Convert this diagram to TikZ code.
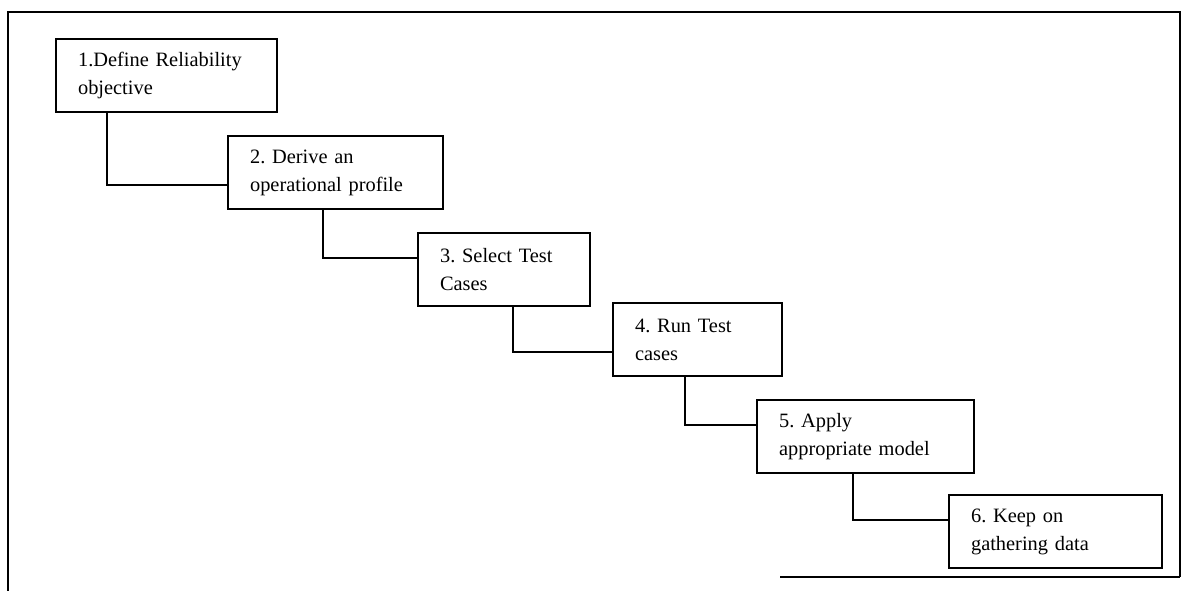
\documentclass[tikz,border=0pt]{standalone}
\usepackage{fontspec}
\setmainfont{Liberation Serif}
\usetikzlibrary{calc}
\frenchspacing

\tikzset{
  stepbox/.style={draw, line width=1.5pt, anchor=north west, align=left,
    inner xsep=0.55cm, minimum height=1.83cm, font=\fontsize{14.5}{20}\selectfont},
  link/.style={line width=1.5pt}
}

\begin{document}
\begin{tikzpicture}[x=0.025cm, y=-0.025cm]

                \useasboundingbox (0,0) rectangle (1182,591);

                % frame
                \draw[line width=1.8pt] (8,591) -- (8,12) -- (1180,12) -- (1180,577);
                \draw[line width=1.5pt] (780,577) -- (1180,577);

                % steps
                \node[stepbox, text width=4.43cm] (define) at (55,38) {1.Define Reliability\\objective};
                \node[stepbox, text width=4.28cm] (derive) at (227,135) {2. Derive an\\operational profile};
                \node[stepbox, text width=3.2cm] (select) at (417,232) {3. Select Test\\Cases};
                \node[stepbox, text width=3.13cm] (run) at (612,302) {4. Run Test\\cases};
                \node[stepbox, text width=4.33cm] (apply) at (756,399) {5. Apply\\appropriate model};
                \node[stepbox, text width=4.23cm] (keep) at (948,494) {6. Keep on\\gathering data};

                % links
                \draw[link] ($(define.south west)+(52,0)$) |- ($(derive.west)+(0,12)$);
                \draw[link] ($(derive.south west)+(96,0)$) |- ($(select.west)+(0,-12)$);
                \draw[link] ($(select.south west)+(96,0)$) |- ($(run.west)+(0,12)$);
                \draw[link] ($(run.south west)+(73,0)$) |- ($(apply.west)+(0,-12)$);
                \draw[link] ($(apply.south west)+(97,0)$) |- ($(keep.west)+(0,-12)$);

            \end{tikzpicture}
\end{document}
